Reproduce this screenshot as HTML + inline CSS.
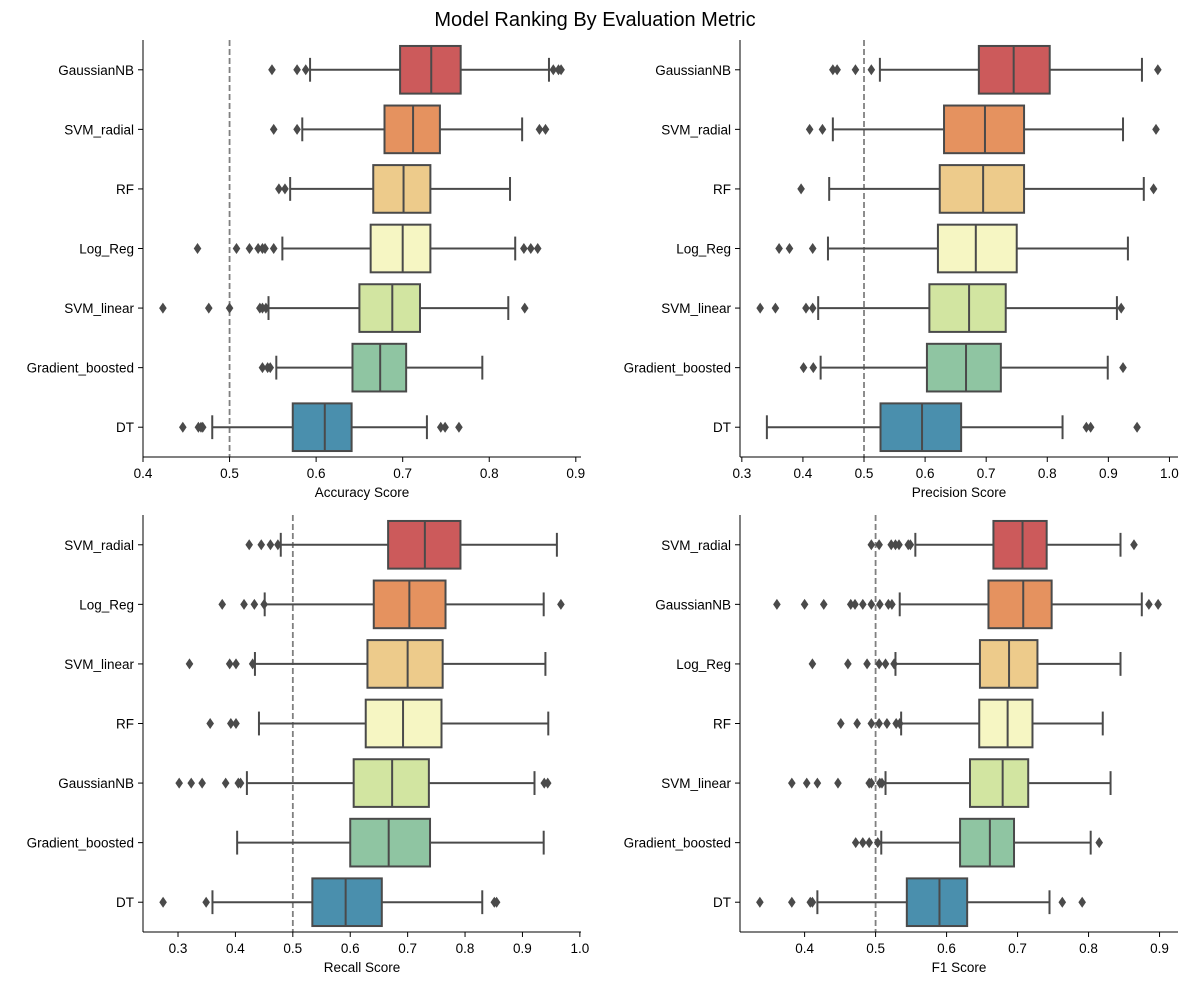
<!DOCTYPE html>
<html><head><meta charset="utf-8">
<style>
html,body{margin:0;padding:0;background:#fff;}
svg{display:block;font-family:"Liberation Sans",sans-serif;}
</style></head>
<body>
<svg id="chart" width="1189" height="985" viewBox="0 0 1189 985" xmlns="http://www.w3.org/2000/svg">
<text x="595" y="26" font-size="20" text-anchor="middle" fill="#000">Model Ranking By Evaluation Metric</text>
</svg>
<script>
// ---- Accuracy panel data ----
const accCategories = ["GaussianNB","SVM_radial","RF","Log_Reg","SVM_linear","Gradient_boosted","DT"];
const accWhiskerLow = [0.593,0.584,0.570,0.561,0.545,0.554,0.480];
const accQ1 = [0.697,0.679,0.666,0.663,0.650,0.642,0.573];
const accMedian = [0.733,0.712,0.701,0.700,0.688,0.674,0.610];
const accQ3 = [0.767,0.743,0.732,0.732,0.720,0.704,0.641];
const accWhiskerHigh = [0.869,0.838,0.824,0.830,0.822,0.792,0.728];
const accOutliers = [[0.549,0.578,0.588,0.874,0.880,0.883],[0.551,0.578,0.858,0.865],[0.557,0.564],[0.463,0.508,0.523,0.533,0.538,0.541,0.551,0.840,0.848,0.856],[0.423,0.476,0.500,0.535,0.538,0.542,0.841],[0.538,0.544,0.547],[0.446,0.464,0.467,0.469,0.744,0.749,0.765]];
const accTicks = [0.4,0.5,0.6,0.7,0.8,0.9];
// ---- Precision panel data ----
const precCategories = ["GaussianNB","SVM_radial","RF","Log_Reg","SVM_linear","Gradient_boosted","DT"];
const precWhiskerLow = [0.526,0.449,0.443,0.441,0.425,0.429,0.341];
const precQ1 = [0.688,0.631,0.624,0.621,0.607,0.603,0.527];
const precMedian = [0.745,0.698,0.695,0.683,0.672,0.667,0.595];
const precQ3 = [0.804,0.762,0.762,0.750,0.732,0.724,0.659];
const precWhiskerHigh = [0.955,0.924,0.958,0.932,0.914,0.899,0.825];
const precOutliers = [[0.449,0.456,0.486,0.512,0.981],[0.411,0.432,0.978],[0.397,0.974],[0.361,0.378,0.416],[0.330,0.355,0.405,0.416,0.921],[0.401,0.417,0.924],[0.864,0.871,0.947]];
const precTicks = [0.3,0.4,0.5,0.6,0.7,0.8,0.9,1.0];
// ---- Recall panel data ----
const recCategories = ["SVM_radial","Log_Reg","SVM_linear","RF","GaussianNB","Gradient_boosted","DT"];
const recWhiskerLow = [0.479,0.451,0.434,0.441,0.420,0.403,0.360];
const recQ1 = [0.666,0.641,0.630,0.627,0.606,0.600,0.534];
const recMedian = [0.730,0.703,0.700,0.692,0.673,0.667,0.592];
const recQ3 = [0.792,0.766,0.761,0.759,0.737,0.739,0.655];
const recWhiskerHigh = [0.960,0.937,0.940,0.945,0.921,0.937,0.830];
const recOutliers = [[0.424,0.445,0.461,0.474],[0.377,0.415,0.433,0.450,0.967],[0.320,0.390,0.401,0.430],[0.356,0.392,0.401],[0.302,0.323,0.342,0.383,0.405,0.409,0.938,0.944],[],[0.274,0.349,0.851,0.855]];
const recTicks = [0.3,0.4,0.5,0.6,0.7,0.8,0.9,1.0];
// ---- F1 panel data ----
const f1Categories = ["SVM_radial","GaussianNB","Log_Reg","RF","SVM_linear","Gradient_boosted","DT"];
const f1WhiskerLow = [0.556,0.534,0.528,0.536,0.514,0.508,0.418];
const f1Q1 = [0.666,0.659,0.647,0.646,0.633,0.619,0.544];
const f1Median = [0.707,0.708,0.688,0.686,0.679,0.661,0.590];
const f1Q3 = [0.741,0.748,0.728,0.721,0.715,0.695,0.629];
const f1WhiskerHigh = [0.845,0.875,0.845,0.820,0.831,0.803,0.745];
const f1Outliers = [[0.494,0.505,0.522,0.528,0.533,0.546,0.549,0.864],[0.361,0.400,0.427,0.465,0.471,0.482,0.494,0.506,0.518,0.523,0.885,0.898],[0.411,0.461,0.488,0.505,0.514,0.526],[0.451,0.474,0.494,0.505,0.516,0.529,0.534],[0.382,0.403,0.418,0.447,0.491,0.494,0.506,0.509],[0.472,0.482,0.491,0.503,0.815],[0.337,0.382,0.408,0.411,0.763,0.791]];
const f1Ticks = [0.4,0.5,0.6,0.7,0.8,0.9];

const palette = ["#cc5a5b","#e5925f","#edcb8b","#f6f6c3","#d2e5a1","#8fc5a2","#4a8fad"];
const NS = "http://www.w3.org/2000/svg";
const svg = document.getElementById("chart");
const LW = 2;
function mk(tag, attrs, parent){const e=document.createElementNS(NS,tag);for(const k in attrs)e.setAttribute(k,attrs[k]);(parent||svg).appendChild(e);return e;}

function panel(name, px, py, pw, ph, xmin, xmax, cats, wl, q1, med, q3, wh, outs, ticks, label){
  const g = mk("g",{});
  
  
  const xs = v => px + (v - xmin) / (xmax - xmin) * pw;
  const n = cats.length, step = ph / n;
  const ys = i => py + step * (i + 0.5);
  const bh = step * 0.8;
  const ref = mk("line",{x1:xs(0.5),x2:xs(0.5),y1:py,y2:py+ph,stroke:"#808080","stroke-width":1.8,"stroke-dasharray":"6,3"},g);
  
  
  for(let i=0;i<n;i++){
    const y = ys(i);
    const bg = mk("g",{},g);
    
    
    mk("line",{x1:xs(wl[i]),x2:xs(q1[i]),y1:y,y2:y,stroke:"#4a4a4a","stroke-width":LW},bg);
    mk("line",{x1:xs(q3[i]),x2:xs(wh[i]),y1:y,y2:y,stroke:"#4a4a4a","stroke-width":LW},bg);
    mk("line",{x1:xs(wl[i]),x2:xs(wl[i]),y1:y-bh/4,y2:y+bh/4,stroke:"#4a4a4a","stroke-width":LW},bg);
    mk("line",{x1:xs(wh[i]),x2:xs(wh[i]),y1:y-bh/4,y2:y+bh/4,stroke:"#4a4a4a","stroke-width":LW},bg);
    mk("rect",{x:xs(q1[i]),y:y-bh/2,width:xs(q3[i])-xs(q1[i]),height:bh,fill:palette[i],stroke:"#4a4a4a","stroke-width":LW},bg);
    mk("line",{x1:xs(med[i]),x2:xs(med[i]),y1:y-bh/2,y2:y+bh/2,stroke:"#4a4a4a","stroke-width":LW},bg);
    outs[i].forEach(v=>{
      const x = xs(v);
      const d = mk("path",{d:`M${x},${y-5.5} L${x+3.8},${y} L${x},${y+5.5} L${x-3.8},${y} Z`,fill:"#4a4a4a"},bg);
      
      
    });
    const tl = mk("text",{x:px-9,y:y+5,"font-size":13.5,"text-anchor":"end",fill:"#000"},g);
    tl.textContent = cats[i];
    
    
    mk("line",{x1:px-5,x2:px,y1:y,y2:y,stroke:"#000","stroke-width":1},g);
  }
  mk("line",{x1:px,x2:px,y1:py,y2:py+ph,stroke:"#000","stroke-width":1},g);
  mk("line",{x1:px,x2:px+pw,y1:py+ph,y2:py+ph,stroke:"#000","stroke-width":1},g);
  ticks.forEach(t=>{
    const x = xs(t);
    mk("line",{x1:x,x2:x,y1:py+ph,y2:py+ph+5,stroke:"#000","stroke-width":1},g);
    const tx = mk("text",{x:x,y:py+ph+21,"font-size":13.5,"text-anchor":"middle",fill:"#000"},g);
    tx.textContent = t.toFixed(1);
    
    
  });
  const xl = mk("text",{x:px+pw/2,y:py+ph+40,"font-size":13.5,"text-anchor":"middle",fill:"#000"},g);
  xl.textContent = label;
  
  
}
panel("accuracy",143,40,438,417,0.400,0.906,accCategories,accWhiskerLow,accQ1,accMedian,accQ3,accWhiskerHigh,accOutliers,accTicks,"Accuracy Score");
panel("precision",740,40,438,417,0.297,1.014,precCategories,precWhiskerLow,precQ1,precMedian,precQ3,precWhiskerHigh,precOutliers,precTicks,"Precision Score");
panel("recall",143,515,438,417,0.239,1.002,recCategories,recWhiskerLow,recQ1,recMedian,recQ3,recWhiskerHigh,recOutliers,recTicks,"Recall Score");
panel("f1",740,515,438,417,0.309,0.926,f1Categories,f1WhiskerLow,f1Q1,f1Median,f1Q3,f1WhiskerHigh,f1Outliers,f1Ticks,"F1 Score");
</script>
</body></html>
